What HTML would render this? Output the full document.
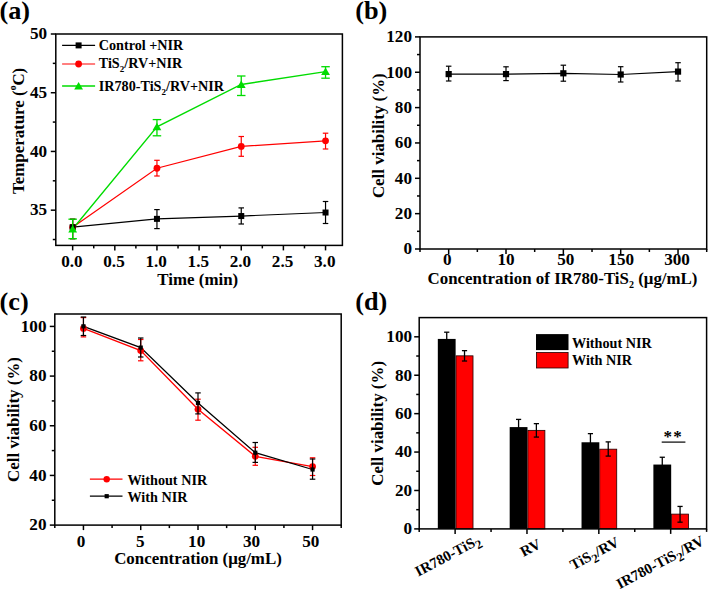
<!DOCTYPE html>
<html><head><meta charset="utf-8"><style>
html,body{margin:0;padding:0;background:#fff;width:709px;height:592px;overflow:hidden}
svg{display:block}
text{font-family:"Liberation Serif", serif;font-weight:bold;fill:#000}
</style></head><body>
<svg width="709" height="592" viewBox="0 0 709 592">
<rect width="709" height="592" fill="#fff"/>
<text transform="translate(-0.50,19.00) scale(1.03,1)" font-size="25.5" text-anchor="start" >(a)</text>
<rect x="55.80" y="34.00" width="286.60" height="211.40" fill="none" stroke="#000" stroke-width="1.5"/>
<line x1="50.80" y1="210.17" x2="55.80" y2="210.17" stroke="#000" stroke-width="1.5" />
<text transform="translate(47.20,215.47) scale(1.06,1)" font-size="16.2" text-anchor="end" >35</text>
<line x1="50.80" y1="151.44" x2="55.80" y2="151.44" stroke="#000" stroke-width="1.5" />
<text transform="translate(47.20,156.74) scale(1.06,1)" font-size="16.2" text-anchor="end" >40</text>
<line x1="50.80" y1="92.72" x2="55.80" y2="92.72" stroke="#000" stroke-width="1.5" />
<text transform="translate(47.20,98.02) scale(1.06,1)" font-size="16.2" text-anchor="end" >45</text>
<line x1="50.80" y1="34.00" x2="55.80" y2="34.00" stroke="#000" stroke-width="1.5" />
<text transform="translate(47.20,39.30) scale(1.06,1)" font-size="16.2" text-anchor="end" >50</text>
<line x1="52.80" y1="239.53" x2="55.80" y2="239.53" stroke="#000" stroke-width="1.5" />
<line x1="52.80" y1="180.81" x2="55.80" y2="180.81" stroke="#000" stroke-width="1.5" />
<line x1="52.80" y1="122.08" x2="55.80" y2="122.08" stroke="#000" stroke-width="1.5" />
<line x1="52.80" y1="63.36" x2="55.80" y2="63.36" stroke="#000" stroke-width="1.5" />
<line x1="72.66" y1="245.40" x2="72.66" y2="250.40" stroke="#000" stroke-width="1.5" />
<text transform="translate(71.86,266.90) scale(1.06,1)" font-size="16.2" text-anchor="middle" >0.0</text>
<line x1="114.81" y1="245.40" x2="114.81" y2="250.40" stroke="#000" stroke-width="1.5" />
<text transform="translate(114.01,266.90) scale(1.06,1)" font-size="16.2" text-anchor="middle" >0.5</text>
<line x1="156.95" y1="245.40" x2="156.95" y2="250.40" stroke="#000" stroke-width="1.5" />
<text transform="translate(156.15,266.90) scale(1.06,1)" font-size="16.2" text-anchor="middle" >1.0</text>
<line x1="199.10" y1="245.40" x2="199.10" y2="250.40" stroke="#000" stroke-width="1.5" />
<text transform="translate(198.30,266.90) scale(1.06,1)" font-size="16.2" text-anchor="middle" >1.5</text>
<line x1="241.25" y1="245.40" x2="241.25" y2="250.40" stroke="#000" stroke-width="1.5" />
<text transform="translate(240.45,266.90) scale(1.06,1)" font-size="16.2" text-anchor="middle" >2.0</text>
<line x1="283.39" y1="245.40" x2="283.39" y2="250.40" stroke="#000" stroke-width="1.5" />
<text transform="translate(282.59,266.90) scale(1.06,1)" font-size="16.2" text-anchor="middle" >2.5</text>
<line x1="325.54" y1="245.40" x2="325.54" y2="250.40" stroke="#000" stroke-width="1.5" />
<text transform="translate(324.74,266.90) scale(1.06,1)" font-size="16.2" text-anchor="middle" >3.0</text>
<line x1="93.73" y1="245.40" x2="93.73" y2="248.40" stroke="#000" stroke-width="1.5" />
<line x1="135.88" y1="245.40" x2="135.88" y2="248.40" stroke="#000" stroke-width="1.5" />
<line x1="178.03" y1="245.40" x2="178.03" y2="248.40" stroke="#000" stroke-width="1.5" />
<line x1="220.17" y1="245.40" x2="220.17" y2="248.40" stroke="#000" stroke-width="1.5" />
<line x1="262.32" y1="245.40" x2="262.32" y2="248.40" stroke="#000" stroke-width="1.5" />
<line x1="304.47" y1="245.40" x2="304.47" y2="248.40" stroke="#000" stroke-width="1.5" />
<text x="197.80" y="284.70" font-size="16.9" text-anchor="middle" >Time (min)</text>
<text transform="translate(24.3,130.9) rotate(-90)" font-size="16.9" text-anchor="middle">Temperature (<tspan font-size="9.5" dy="-8">o</tspan><tspan dy="8">C)</tspan></text>
<polyline points="72.66,227.20 156.95,218.86 241.25,216.04 325.54,212.52" fill="none" stroke="#000" stroke-width="1.2"/>
<polyline points="72.66,227.20 156.95,168.24 241.25,146.39 325.54,140.87" fill="none" stroke="#ff0000" stroke-width="1.2"/>
<polyline points="72.66,228.96 156.95,126.78 241.25,84.50 325.54,71.58" fill="none" stroke="#00dc00" stroke-width="1.35"/>
<line x1="72.66" y1="219.20" x2="72.66" y2="238.70" stroke="#ff0000" stroke-width="1.2" />
<line x1="69.91" y1="219.20" x2="75.41" y2="219.20" stroke="#ff0000" stroke-width="1.2" />
<line x1="69.91" y1="238.70" x2="75.41" y2="238.70" stroke="#ff0000" stroke-width="1.2" />
<circle cx="72.66" cy="227.20" r="3.4" fill="#ff0000"/>
<line x1="156.95" y1="160.30" x2="156.95" y2="176.00" stroke="#ff0000" stroke-width="1.2" />
<line x1="154.20" y1="160.30" x2="159.70" y2="160.30" stroke="#ff0000" stroke-width="1.2" />
<line x1="154.20" y1="176.00" x2="159.70" y2="176.00" stroke="#ff0000" stroke-width="1.2" />
<circle cx="156.95" cy="168.24" r="3.4" fill="#ff0000"/>
<line x1="241.25" y1="136.50" x2="241.25" y2="156.30" stroke="#ff0000" stroke-width="1.2" />
<line x1="238.50" y1="136.50" x2="244.00" y2="136.50" stroke="#ff0000" stroke-width="1.2" />
<line x1="238.50" y1="156.30" x2="244.00" y2="156.30" stroke="#ff0000" stroke-width="1.2" />
<circle cx="241.25" cy="146.39" r="3.4" fill="#ff0000"/>
<line x1="325.54" y1="133.20" x2="325.54" y2="149.00" stroke="#ff0000" stroke-width="1.2" />
<line x1="322.79" y1="133.20" x2="328.29" y2="133.20" stroke="#ff0000" stroke-width="1.2" />
<line x1="322.79" y1="149.00" x2="328.29" y2="149.00" stroke="#ff0000" stroke-width="1.2" />
<circle cx="325.54" cy="140.87" r="3.4" fill="#ff0000"/>
<line x1="72.66" y1="219.20" x2="72.66" y2="238.70" stroke="#000" stroke-width="1.2" />
<line x1="69.91" y1="219.20" x2="75.41" y2="219.20" stroke="#000" stroke-width="1.2" />
<line x1="69.91" y1="238.70" x2="75.41" y2="238.70" stroke="#000" stroke-width="1.2" />
<rect x="69.66" y="224.20" width="6" height="6" fill="#000"/>
<line x1="156.95" y1="209.60" x2="156.95" y2="228.60" stroke="#000" stroke-width="1.2" />
<line x1="154.20" y1="209.60" x2="159.70" y2="209.60" stroke="#000" stroke-width="1.2" />
<line x1="154.20" y1="228.60" x2="159.70" y2="228.60" stroke="#000" stroke-width="1.2" />
<rect x="153.95" y="215.86" width="6" height="6" fill="#000"/>
<line x1="241.25" y1="207.90" x2="241.25" y2="224.00" stroke="#000" stroke-width="1.2" />
<line x1="238.50" y1="207.90" x2="244.00" y2="207.90" stroke="#000" stroke-width="1.2" />
<line x1="238.50" y1="224.00" x2="244.00" y2="224.00" stroke="#000" stroke-width="1.2" />
<rect x="238.25" y="213.04" width="6" height="6" fill="#000"/>
<line x1="325.54" y1="201.50" x2="325.54" y2="223.50" stroke="#000" stroke-width="1.2" />
<line x1="322.79" y1="201.50" x2="328.29" y2="201.50" stroke="#000" stroke-width="1.2" />
<line x1="322.79" y1="223.50" x2="328.29" y2="223.50" stroke="#000" stroke-width="1.2" />
<rect x="322.54" y="209.52" width="6" height="6" fill="#000"/>
<line x1="72.66" y1="219.20" x2="72.66" y2="238.70" stroke="#00dc00" stroke-width="1.3" />
<line x1="68.41" y1="219.20" x2="76.91" y2="219.20" stroke="#00dc00" stroke-width="1.3" />
<line x1="68.41" y1="238.70" x2="76.91" y2="238.70" stroke="#00dc00" stroke-width="1.3" />
<polygon points="68.26,232.40 77.06,232.40 72.66,224.92" fill="#00dc00"/>
<line x1="156.95" y1="119.60" x2="156.95" y2="135.80" stroke="#00dc00" stroke-width="1.3" />
<line x1="152.70" y1="119.60" x2="161.20" y2="119.60" stroke="#00dc00" stroke-width="1.3" />
<line x1="152.70" y1="135.80" x2="161.20" y2="135.80" stroke="#00dc00" stroke-width="1.3" />
<polygon points="152.55,130.22 161.35,130.22 156.95,122.74" fill="#00dc00"/>
<line x1="241.25" y1="76.00" x2="241.25" y2="95.50" stroke="#00dc00" stroke-width="1.3" />
<line x1="237.00" y1="76.00" x2="245.50" y2="76.00" stroke="#00dc00" stroke-width="1.3" />
<line x1="237.00" y1="95.50" x2="245.50" y2="95.50" stroke="#00dc00" stroke-width="1.3" />
<polygon points="236.85,87.94 245.65,87.94 241.25,80.46" fill="#00dc00"/>
<line x1="325.54" y1="66.70" x2="325.54" y2="78.20" stroke="#00dc00" stroke-width="1.3" />
<line x1="321.29" y1="66.70" x2="329.79" y2="66.70" stroke="#00dc00" stroke-width="1.3" />
<line x1="321.29" y1="78.20" x2="329.79" y2="78.20" stroke="#00dc00" stroke-width="1.3" />
<polygon points="321.14,75.02 329.94,75.02 325.54,67.54" fill="#00dc00"/>
<line x1="62.10" y1="45.40" x2="95.10" y2="45.40" stroke="#000" stroke-width="1.2" />
<rect x="75.60" y="42.40" width="6" height="6" fill="#000"/>
<line x1="62.10" y1="64.00" x2="95.10" y2="64.00" stroke="#ff0000" stroke-width="1.2" />
<circle cx="78.60" cy="64.00" r="3.4" fill="#ff0000"/>
<line x1="62.10" y1="86.00" x2="95.10" y2="86.00" stroke="#00dc00" stroke-width="1.3" />
<polygon points="74.20,89.54 83.00,89.54 78.60,82.06" fill="#00dc00"/>
<text x="98.70" y="49.70" font-size="14.2" text-anchor="start" >Control +NIR</text>
<text x="98.70" y="68.30" font-size="14.2" text-anchor="start" >TiS<tspan font-size="9" dy="3.5">2</tspan><tspan dy="-3.5">/RV+NIR</tspan></text>
<text x="98.70" y="91.10" font-size="14.2" text-anchor="start" >IR780-TiS<tspan font-size="9" dy="3.5">2</tspan><tspan dy="-3.5">/RV+NIR</tspan></text>
<text transform="translate(355.20,19.20) scale(1.03,1)" font-size="25.5" text-anchor="start" >(b)</text>
<rect x="420.00" y="36.90" width="286.70" height="212.10" fill="none" stroke="#000" stroke-width="1.5"/>
<line x1="415.00" y1="249.00" x2="420.00" y2="249.00" stroke="#000" stroke-width="1.5" />
<text transform="translate(412.00,254.30) scale(1.06,1)" font-size="16.2" text-anchor="end" >0</text>
<line x1="415.00" y1="213.65" x2="420.00" y2="213.65" stroke="#000" stroke-width="1.5" />
<text transform="translate(412.00,218.95) scale(1.06,1)" font-size="16.2" text-anchor="end" >20</text>
<line x1="415.00" y1="178.30" x2="420.00" y2="178.30" stroke="#000" stroke-width="1.5" />
<text transform="translate(412.00,183.60) scale(1.06,1)" font-size="16.2" text-anchor="end" >40</text>
<line x1="415.00" y1="142.95" x2="420.00" y2="142.95" stroke="#000" stroke-width="1.5" />
<text transform="translate(412.00,148.25) scale(1.06,1)" font-size="16.2" text-anchor="end" >60</text>
<line x1="415.00" y1="107.60" x2="420.00" y2="107.60" stroke="#000" stroke-width="1.5" />
<text transform="translate(412.00,112.90) scale(1.06,1)" font-size="16.2" text-anchor="end" >80</text>
<line x1="415.00" y1="72.25" x2="420.00" y2="72.25" stroke="#000" stroke-width="1.5" />
<text transform="translate(412.00,77.55) scale(1.06,1)" font-size="16.2" text-anchor="end" >100</text>
<line x1="415.00" y1="36.90" x2="420.00" y2="36.90" stroke="#000" stroke-width="1.5" />
<text transform="translate(412.00,42.20) scale(1.06,1)" font-size="16.2" text-anchor="end" >120</text>
<line x1="417.00" y1="231.32" x2="420.00" y2="231.32" stroke="#000" stroke-width="1.5" />
<line x1="417.00" y1="195.97" x2="420.00" y2="195.97" stroke="#000" stroke-width="1.5" />
<line x1="417.00" y1="160.62" x2="420.00" y2="160.62" stroke="#000" stroke-width="1.5" />
<line x1="417.00" y1="125.28" x2="420.00" y2="125.28" stroke="#000" stroke-width="1.5" />
<line x1="417.00" y1="89.93" x2="420.00" y2="89.93" stroke="#000" stroke-width="1.5" />
<line x1="417.00" y1="54.57" x2="420.00" y2="54.57" stroke="#000" stroke-width="1.5" />
<line x1="448.67" y1="249.00" x2="448.67" y2="254.00" stroke="#000" stroke-width="1.5" />
<text transform="translate(447.17,265.20) scale(1.06,1)" font-size="16.2" text-anchor="middle" >0</text>
<line x1="506.01" y1="249.00" x2="506.01" y2="254.00" stroke="#000" stroke-width="1.5" />
<text transform="translate(506.01,265.20) scale(1.06,1)" font-size="16.2" text-anchor="middle" >10</text>
<line x1="563.35" y1="249.00" x2="563.35" y2="254.00" stroke="#000" stroke-width="1.5" />
<text transform="translate(565.85,265.20) scale(1.06,1)" font-size="16.2" text-anchor="middle" >50</text>
<line x1="620.69" y1="249.00" x2="620.69" y2="254.00" stroke="#000" stroke-width="1.5" />
<text transform="translate(621.19,265.20) scale(1.06,1)" font-size="16.2" text-anchor="middle" >150</text>
<line x1="678.03" y1="249.00" x2="678.03" y2="254.00" stroke="#000" stroke-width="1.5" />
<text transform="translate(677.03,265.20) scale(1.06,1)" font-size="16.2" text-anchor="middle" >300</text>
<line x1="420.00" y1="249.00" x2="420.00" y2="252.00" stroke="#000" stroke-width="1.5" />
<line x1="477.34" y1="249.00" x2="477.34" y2="252.00" stroke="#000" stroke-width="1.5" />
<line x1="534.68" y1="249.00" x2="534.68" y2="252.00" stroke="#000" stroke-width="1.5" />
<line x1="592.02" y1="249.00" x2="592.02" y2="252.00" stroke="#000" stroke-width="1.5" />
<line x1="649.36" y1="249.00" x2="649.36" y2="252.00" stroke="#000" stroke-width="1.5" />
<line x1="706.70" y1="249.00" x2="706.70" y2="252.00" stroke="#000" stroke-width="1.5" />
<text x="562.50" y="283.60" font-size="16.9" text-anchor="middle" >Concentration of IR780-TiS<tspan font-size="10" dy="4.5">2</tspan><tspan dy="-4.5"> (μg/mL)</tspan></text>
<text transform="translate(384.0,135.7) rotate(-90)" font-size="16.9" text-anchor="middle">Cell viability (%)</text>
<polyline points="448.67,74.10 506.01,74.10 563.35,73.30 620.69,74.50 678.03,71.60" fill="none" stroke="#000" stroke-width="1.2"/>
<line x1="448.67" y1="66.20" x2="448.67" y2="81.00" stroke="#000" stroke-width="1.2" />
<line x1="445.92" y1="66.20" x2="451.42" y2="66.20" stroke="#000" stroke-width="1.2" />
<line x1="445.92" y1="81.00" x2="451.42" y2="81.00" stroke="#000" stroke-width="1.2" />
<rect x="445.57" y="71.00" width="6.2" height="6.2" fill="#000"/>
<line x1="506.01" y1="66.80" x2="506.01" y2="80.60" stroke="#000" stroke-width="1.2" />
<line x1="503.26" y1="66.80" x2="508.76" y2="66.80" stroke="#000" stroke-width="1.2" />
<line x1="503.26" y1="80.60" x2="508.76" y2="80.60" stroke="#000" stroke-width="1.2" />
<rect x="502.91" y="71.00" width="6.2" height="6.2" fill="#000"/>
<line x1="563.35" y1="65.20" x2="563.35" y2="81.20" stroke="#000" stroke-width="1.2" />
<line x1="560.60" y1="65.20" x2="566.10" y2="65.20" stroke="#000" stroke-width="1.2" />
<line x1="560.60" y1="81.20" x2="566.10" y2="81.20" stroke="#000" stroke-width="1.2" />
<rect x="560.25" y="70.20" width="6.2" height="6.2" fill="#000"/>
<line x1="620.69" y1="66.70" x2="620.69" y2="82.00" stroke="#000" stroke-width="1.2" />
<line x1="617.94" y1="66.70" x2="623.44" y2="66.70" stroke="#000" stroke-width="1.2" />
<line x1="617.94" y1="82.00" x2="623.44" y2="82.00" stroke="#000" stroke-width="1.2" />
<rect x="617.59" y="71.40" width="6.2" height="6.2" fill="#000"/>
<line x1="678.03" y1="62.70" x2="678.03" y2="81.00" stroke="#000" stroke-width="1.2" />
<line x1="675.28" y1="62.70" x2="680.78" y2="62.70" stroke="#000" stroke-width="1.2" />
<line x1="675.28" y1="81.00" x2="680.78" y2="81.00" stroke="#000" stroke-width="1.2" />
<rect x="674.93" y="68.50" width="6.2" height="6.2" fill="#000"/>
<text transform="translate(-0.50,309.60) scale(1.03,1)" font-size="25.5" text-anchor="start" >(c)</text>
<rect x="54.80" y="314.00" width="286.40" height="211.10" fill="none" stroke="#000" stroke-width="1.5"/>
<line x1="49.80" y1="525.10" x2="54.80" y2="525.10" stroke="#000" stroke-width="1.5" />
<text transform="translate(46.50,530.40) scale(1.06,1)" font-size="16.2" text-anchor="end" >20</text>
<line x1="49.80" y1="475.43" x2="54.80" y2="475.43" stroke="#000" stroke-width="1.5" />
<text transform="translate(46.50,480.73) scale(1.06,1)" font-size="16.2" text-anchor="end" >40</text>
<line x1="49.80" y1="425.76" x2="54.80" y2="425.76" stroke="#000" stroke-width="1.5" />
<text transform="translate(46.50,431.06) scale(1.06,1)" font-size="16.2" text-anchor="end" >60</text>
<line x1="49.80" y1="376.09" x2="54.80" y2="376.09" stroke="#000" stroke-width="1.5" />
<text transform="translate(46.50,381.39) scale(1.06,1)" font-size="16.2" text-anchor="end" >80</text>
<line x1="49.80" y1="326.42" x2="54.80" y2="326.42" stroke="#000" stroke-width="1.5" />
<text transform="translate(46.50,331.72) scale(1.06,1)" font-size="16.2" text-anchor="end" >100</text>
<line x1="51.80" y1="500.26" x2="54.80" y2="500.26" stroke="#000" stroke-width="1.5" />
<line x1="51.80" y1="450.59" x2="54.80" y2="450.59" stroke="#000" stroke-width="1.5" />
<line x1="51.80" y1="400.92" x2="54.80" y2="400.92" stroke="#000" stroke-width="1.5" />
<line x1="51.80" y1="351.25" x2="54.80" y2="351.25" stroke="#000" stroke-width="1.5" />
<line x1="83.44" y1="525.10" x2="83.44" y2="530.10" stroke="#000" stroke-width="1.5" />
<text transform="translate(80.94,547.00) scale(1.06,1)" font-size="16.2" text-anchor="middle" >0</text>
<line x1="140.72" y1="525.10" x2="140.72" y2="530.10" stroke="#000" stroke-width="1.5" />
<text transform="translate(140.22,547.00) scale(1.06,1)" font-size="16.2" text-anchor="middle" >5</text>
<line x1="198.00" y1="525.10" x2="198.00" y2="530.10" stroke="#000" stroke-width="1.5" />
<text transform="translate(196.70,547.00) scale(1.06,1)" font-size="16.2" text-anchor="middle" >10</text>
<line x1="255.28" y1="525.10" x2="255.28" y2="530.10" stroke="#000" stroke-width="1.5" />
<text transform="translate(251.48,547.00) scale(1.06,1)" font-size="16.2" text-anchor="middle" >30</text>
<line x1="312.56" y1="525.10" x2="312.56" y2="530.10" stroke="#000" stroke-width="1.5" />
<text transform="translate(310.76,547.00) scale(1.06,1)" font-size="16.2" text-anchor="middle" >50</text>
<line x1="54.80" y1="525.10" x2="54.80" y2="528.10" stroke="#000" stroke-width="1.5" />
<line x1="112.08" y1="525.10" x2="112.08" y2="528.10" stroke="#000" stroke-width="1.5" />
<line x1="169.36" y1="525.10" x2="169.36" y2="528.10" stroke="#000" stroke-width="1.5" />
<line x1="226.64" y1="525.10" x2="226.64" y2="528.10" stroke="#000" stroke-width="1.5" />
<line x1="283.92" y1="525.10" x2="283.92" y2="528.10" stroke="#000" stroke-width="1.5" />
<line x1="341.20" y1="525.10" x2="341.20" y2="528.10" stroke="#000" stroke-width="1.5" />
<text x="198.00" y="563.90" font-size="16.9" text-anchor="middle" >Concentration (μg/mL)</text>
<text transform="translate(18.8,419.5) rotate(-90)" font-size="16.9" text-anchor="middle">Cell viability (%)</text>
<polyline points="83.44,328.40 140.72,350.60 198.00,409.30 255.28,456.30 312.56,466.60" fill="none" stroke="#ff0000" stroke-width="1.3"/>
<polyline points="83.44,326.30 140.72,347.60 198.00,403.00 255.28,452.70 312.56,469.50" fill="none" stroke="#000" stroke-width="1.3"/>
<line x1="83.44" y1="317.60" x2="83.44" y2="336.90" stroke="#ff0000" stroke-width="1.2" />
<line x1="80.69" y1="317.60" x2="86.19" y2="317.60" stroke="#ff0000" stroke-width="1.2" />
<line x1="80.69" y1="336.90" x2="86.19" y2="336.90" stroke="#ff0000" stroke-width="1.2" />
<circle cx="83.44" cy="328.40" r="3.4" fill="#ff0000"/>
<line x1="140.72" y1="339.50" x2="140.72" y2="360.80" stroke="#ff0000" stroke-width="1.2" />
<line x1="137.97" y1="339.50" x2="143.47" y2="339.50" stroke="#ff0000" stroke-width="1.2" />
<line x1="137.97" y1="360.80" x2="143.47" y2="360.80" stroke="#ff0000" stroke-width="1.2" />
<circle cx="140.72" cy="350.60" r="3.4" fill="#ff0000"/>
<line x1="198.00" y1="399.20" x2="198.00" y2="420.20" stroke="#ff0000" stroke-width="1.2" />
<line x1="195.25" y1="399.20" x2="200.75" y2="399.20" stroke="#ff0000" stroke-width="1.2" />
<line x1="195.25" y1="420.20" x2="200.75" y2="420.20" stroke="#ff0000" stroke-width="1.2" />
<circle cx="198.00" cy="409.30" r="3.4" fill="#ff0000"/>
<line x1="255.28" y1="447.30" x2="255.28" y2="465.30" stroke="#ff0000" stroke-width="1.2" />
<line x1="252.53" y1="447.30" x2="258.03" y2="447.30" stroke="#ff0000" stroke-width="1.2" />
<line x1="252.53" y1="465.30" x2="258.03" y2="465.30" stroke="#ff0000" stroke-width="1.2" />
<circle cx="255.28" cy="456.30" r="3.4" fill="#ff0000"/>
<line x1="312.56" y1="457.80" x2="312.56" y2="475.50" stroke="#ff0000" stroke-width="1.2" />
<line x1="309.81" y1="457.80" x2="315.31" y2="457.80" stroke="#ff0000" stroke-width="1.2" />
<line x1="309.81" y1="475.50" x2="315.31" y2="475.50" stroke="#ff0000" stroke-width="1.2" />
<circle cx="312.56" cy="466.60" r="3.4" fill="#ff0000"/>
<line x1="83.44" y1="317.00" x2="83.44" y2="335.50" stroke="#000" stroke-width="1.2" />
<line x1="80.69" y1="317.00" x2="86.19" y2="317.00" stroke="#000" stroke-width="1.2" />
<line x1="80.69" y1="335.50" x2="86.19" y2="335.50" stroke="#000" stroke-width="1.2" />
<rect x="81.34" y="324.20" width="4.2" height="4.2" fill="#000"/>
<line x1="140.72" y1="338.00" x2="140.72" y2="357.00" stroke="#000" stroke-width="1.2" />
<line x1="137.97" y1="338.00" x2="143.47" y2="338.00" stroke="#000" stroke-width="1.2" />
<line x1="137.97" y1="357.00" x2="143.47" y2="357.00" stroke="#000" stroke-width="1.2" />
<rect x="138.62" y="345.50" width="4.2" height="4.2" fill="#000"/>
<line x1="198.00" y1="392.90" x2="198.00" y2="413.90" stroke="#000" stroke-width="1.2" />
<line x1="195.25" y1="392.90" x2="200.75" y2="392.90" stroke="#000" stroke-width="1.2" />
<line x1="195.25" y1="413.90" x2="200.75" y2="413.90" stroke="#000" stroke-width="1.2" />
<rect x="195.90" y="400.90" width="4.2" height="4.2" fill="#000"/>
<line x1="255.28" y1="442.50" x2="255.28" y2="462.40" stroke="#000" stroke-width="1.2" />
<line x1="252.53" y1="442.50" x2="258.03" y2="442.50" stroke="#000" stroke-width="1.2" />
<line x1="252.53" y1="462.40" x2="258.03" y2="462.40" stroke="#000" stroke-width="1.2" />
<rect x="253.18" y="450.60" width="4.2" height="4.2" fill="#000"/>
<line x1="312.56" y1="459.00" x2="312.56" y2="479.20" stroke="#000" stroke-width="1.2" />
<line x1="309.81" y1="459.00" x2="315.31" y2="459.00" stroke="#000" stroke-width="1.2" />
<line x1="309.81" y1="479.20" x2="315.31" y2="479.20" stroke="#000" stroke-width="1.2" />
<rect x="310.46" y="467.40" width="4.2" height="4.2" fill="#000"/>
<line x1="89.90" y1="479.20" x2="122.50" y2="479.20" stroke="#ff0000" stroke-width="1.2" />
<circle cx="106.70" cy="479.20" r="3.2" fill="#ff0000"/>
<line x1="89.90" y1="496.20" x2="122.50" y2="496.20" stroke="#000" stroke-width="1.2" />
<rect x="104.60" y="494.10" width="4.2" height="4.2" fill="#000"/>
<text x="127.40" y="484.70" font-size="14.2" text-anchor="start" >Without NIR</text>
<text x="127.40" y="501.50" font-size="14.2" text-anchor="start" >With NIR</text>
<text transform="translate(355.20,309.60) scale(1.03,1)" font-size="25.5" text-anchor="start" >(d)</text>
<rect x="437.82" y="338.92" width="17.8" height="189.98" fill="#000"/>
<rect x="456.02" y="355.83" width="17.0" height="173.07" fill="#ff0000" stroke="#200" stroke-width="0.8"/>
<line x1="446.73" y1="332.20" x2="446.73" y2="340.92" stroke="#000" stroke-width="1.3" />
<line x1="444.12" y1="332.20" x2="449.33" y2="332.20" stroke="#000" stroke-width="1.3" />
<line x1="464.52" y1="350.64" x2="464.52" y2="361.01" stroke="#000" stroke-width="1.3" />
<line x1="461.92" y1="350.64" x2="467.12" y2="350.64" stroke="#000" stroke-width="1.3" />
<line x1="461.92" y1="361.01" x2="467.12" y2="361.01" stroke="#000" stroke-width="1.3" />
<rect x="509.68" y="427.09" width="17.8" height="101.81" fill="#000"/>
<rect x="527.88" y="430.36" width="17.0" height="98.54" fill="#ff0000" stroke="#200" stroke-width="0.8"/>
<line x1="518.58" y1="419.41" x2="518.58" y2="429.09" stroke="#000" stroke-width="1.3" />
<line x1="515.98" y1="419.41" x2="521.18" y2="419.41" stroke="#000" stroke-width="1.3" />
<line x1="536.38" y1="423.63" x2="536.38" y2="437.08" stroke="#000" stroke-width="1.3" />
<line x1="533.77" y1="423.63" x2="538.98" y2="423.63" stroke="#000" stroke-width="1.3" />
<line x1="533.77" y1="437.08" x2="538.98" y2="437.08" stroke="#000" stroke-width="1.3" />
<rect x="581.53" y="442.27" width="17.8" height="86.63" fill="#000"/>
<rect x="599.73" y="449.18" width="17.0" height="79.72" fill="#ff0000" stroke="#200" stroke-width="0.8"/>
<line x1="590.43" y1="433.62" x2="590.43" y2="444.27" stroke="#000" stroke-width="1.3" />
<line x1="587.83" y1="433.62" x2="593.03" y2="433.62" stroke="#000" stroke-width="1.3" />
<line x1="608.23" y1="441.88" x2="608.23" y2="456.10" stroke="#000" stroke-width="1.3" />
<line x1="605.62" y1="441.88" x2="610.83" y2="441.88" stroke="#000" stroke-width="1.3" />
<line x1="605.62" y1="456.10" x2="610.83" y2="456.10" stroke="#000" stroke-width="1.3" />
<rect x="653.38" y="464.55" width="17.8" height="64.35" fill="#000"/>
<rect x="671.57" y="514.11" width="17.0" height="14.79" fill="#ff0000" stroke="#200" stroke-width="0.8"/>
<line x1="662.27" y1="457.25" x2="662.27" y2="466.55" stroke="#000" stroke-width="1.3" />
<line x1="659.67" y1="457.25" x2="664.88" y2="457.25" stroke="#000" stroke-width="1.3" />
<line x1="680.07" y1="506.43" x2="680.07" y2="522.18" stroke="#000" stroke-width="1.3" />
<line x1="677.47" y1="506.43" x2="682.67" y2="506.43" stroke="#000" stroke-width="1.3" />
<line x1="677.47" y1="522.18" x2="682.67" y2="522.18" stroke="#000" stroke-width="1.3" />
<rect x="419.20" y="317.60" width="287.40" height="211.30" fill="none" stroke="#000" stroke-width="1.5"/>
<line x1="414.20" y1="528.90" x2="419.20" y2="528.90" stroke="#000" stroke-width="1.5" />
<text transform="translate(412.10,534.20) scale(1.06,1)" font-size="16.2" text-anchor="end" >0</text>
<line x1="414.20" y1="490.48" x2="419.20" y2="490.48" stroke="#000" stroke-width="1.5" />
<text transform="translate(412.10,495.78) scale(1.06,1)" font-size="16.2" text-anchor="end" >20</text>
<line x1="414.20" y1="452.06" x2="419.20" y2="452.06" stroke="#000" stroke-width="1.5" />
<text transform="translate(412.10,457.36) scale(1.06,1)" font-size="16.2" text-anchor="end" >40</text>
<line x1="414.20" y1="413.65" x2="419.20" y2="413.65" stroke="#000" stroke-width="1.5" />
<text transform="translate(412.10,418.95) scale(1.06,1)" font-size="16.2" text-anchor="end" >60</text>
<line x1="414.20" y1="375.23" x2="419.20" y2="375.23" stroke="#000" stroke-width="1.5" />
<text transform="translate(412.10,380.53) scale(1.06,1)" font-size="16.2" text-anchor="end" >80</text>
<line x1="414.20" y1="336.81" x2="419.20" y2="336.81" stroke="#000" stroke-width="1.5" />
<text transform="translate(412.10,342.11) scale(1.06,1)" font-size="16.2" text-anchor="end" >100</text>
<line x1="416.20" y1="509.69" x2="419.20" y2="509.69" stroke="#000" stroke-width="1.5" />
<line x1="416.20" y1="471.27" x2="419.20" y2="471.27" stroke="#000" stroke-width="1.5" />
<line x1="416.20" y1="432.85" x2="419.20" y2="432.85" stroke="#000" stroke-width="1.5" />
<line x1="416.20" y1="394.44" x2="419.20" y2="394.44" stroke="#000" stroke-width="1.5" />
<line x1="416.20" y1="356.02" x2="419.20" y2="356.02" stroke="#000" stroke-width="1.5" />
<line x1="455.12" y1="528.90" x2="455.12" y2="533.90" stroke="#000" stroke-width="1.5" />
<line x1="526.98" y1="528.90" x2="526.98" y2="533.90" stroke="#000" stroke-width="1.5" />
<line x1="598.83" y1="528.90" x2="598.83" y2="533.90" stroke="#000" stroke-width="1.5" />
<line x1="670.67" y1="528.90" x2="670.67" y2="533.90" stroke="#000" stroke-width="1.5" />
<line x1="419.20" y1="528.90" x2="419.20" y2="531.90" stroke="#000" stroke-width="1.5" />
<line x1="491.05" y1="528.90" x2="491.05" y2="531.90" stroke="#000" stroke-width="1.5" />
<line x1="562.90" y1="528.90" x2="562.90" y2="531.90" stroke="#000" stroke-width="1.5" />
<line x1="634.75" y1="528.90" x2="634.75" y2="531.90" stroke="#000" stroke-width="1.5" />
<line x1="706.60" y1="528.90" x2="706.60" y2="531.90" stroke="#000" stroke-width="1.5" />
<text transform="translate(383.3,423.4) rotate(-90)" font-size="16.9" text-anchor="middle">Cell viability (%)</text>
<rect x="536" y="334.1" width="32.5" height="16" fill="#000"/>
<rect x="536.4" y="352.5" width="31.7" height="15.5" fill="#ff0000" stroke="#200" stroke-width="0.8"/>
<text x="572.00" y="347.50" font-size="14.2" text-anchor="start" >Without NIR</text>
<text x="572.00" y="364.80" font-size="14.2" text-anchor="start" >With NIR</text>
<text x="667.80" y="442.00" font-size="17" text-anchor="middle" >*</text>
<text x="677.40" y="442.00" font-size="17" text-anchor="middle" >*</text>
<line x1="661.70" y1="442.10" x2="685.40" y2="442.10" stroke="#000" stroke-width="1.2" />
<text transform="translate(447.70,555.50) rotate(-28)" font-size="14.8" text-anchor="middle" dominant-baseline="central">IR780-TiS<tspan font-size="12.5" dy="5">2</tspan></text>
<text transform="translate(530.30,547.60) rotate(-28)" font-size="14.8" text-anchor="middle" dominant-baseline="central">RV</text>
<text transform="translate(594.30,553.30) rotate(-28)" font-size="14.8" text-anchor="middle" dominant-baseline="central">TiS<tspan font-size="12.5" dy="5">2</tspan><tspan dy="-5">/RV</tspan></text>
<text transform="translate(660.10,562.20) rotate(-28)" font-size="14.8" text-anchor="middle" dominant-baseline="central">IR780-TiS<tspan font-size="12.5" dy="5">2</tspan><tspan dy="-5">/RV</tspan></text>
</svg>
</body></html>
